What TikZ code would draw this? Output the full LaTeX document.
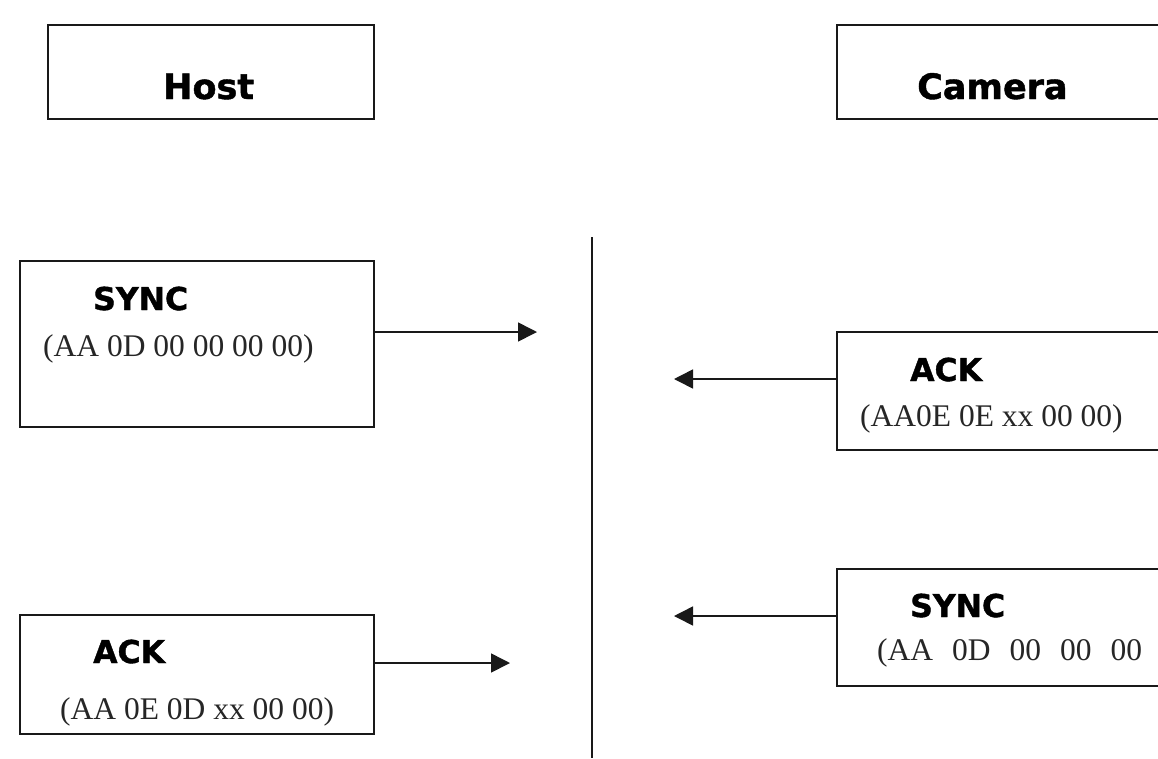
\documentclass[tikz,border=0pt]{standalone}
\usepackage{fontspec}
\setmainfont{Liberation Serif}
\newfontfamily\lblfont{DejaVu Sans Bold}[FakeBold=1.2]
\usetikzlibrary{arrows.meta}
\tikzset{
  box/.style={draw=black!90, line width=1.4pt, rectangle, inner sep=0pt, outer sep=0pt, fill=none},
  title/.style={anchor=base west, inner sep=0pt, font=\lblfont\fontsize{35}{40}\selectfont},
  lbl/.style={anchor=base west, inner sep=0pt, font=\lblfont\fontsize{31.5}{36}\selectfont},
  code/.style={anchor=base west, inner sep=0pt, font=\fontsize{31.5}{36}\selectfont, text=black!85},
  arr/.style={draw=black!90, line width=1.6pt, -{Triangle[length=19pt,width=19pt]}},
  vline/.style={draw=black!90, line width=1.4pt}
}
\begin{document}
\begin{tikzpicture}[x=1pt,y=-1pt]
\useasboundingbox (0,0) rectangle (1158,758);
\clip (0,0) rectangle (1158,758);
\fill[white] (0,0) rectangle (1158,758);
% boxes
\node[box, minimum width=326pt, minimum height=94pt] (host) at (211,72) {};
\node[box, minimum width=338pt, minimum height=94pt] (camera) at (1006,72) {};
\node[box, minimum width=354pt, minimum height=166pt] (hsync) at (197,344) {};
\node[box, minimum width=338pt, minimum height=118pt] (cack) at (1006,391) {};
\node[box, minimum width=338pt, minimum height=117pt] (csync) at (1006,627.5) {};
\node[box, minimum width=354pt, minimum height=119pt] (hack) at (197,674.5) {};
% titles
\node[title] (hosttxt) at (163,99) {Host};
\node[title] (camtxt) at (917,99) {Camera};
% labels
\node[lbl] (hsynclbl) at (93,310) {SYNC};
\node[code] (hsynccode) at (43,356) {(AA 0D 00 00 00 00)};
\node[lbl] (cacklbl) at (910,381) {ACK};
\node[code] (cackcode) at (860,426) {(AA0E 0E xx 00 00)};
\node[lbl] (csynclbl) at (910,617) {SYNC};
\node[code] (csynccode) at (877,660) {(AA\hspace{19pt}0D\hspace{19pt}00\hspace{19pt}00\hspace{19pt}00};
\node[lbl] (hacklbl) at (93,663) {ACK};
\node[code] (hackcode) at (60,719) {(AA 0E 0D xx 00 00)};
% divider
\coordinate (vtop) at (592,237);
\coordinate (vbot) at (592,758);
\draw[vline] (vtop) -- (vbot);
% arrows
\coordinate (t1) at (537,332);
\coordinate (t2) at (674,379);
\coordinate (t3) at (674,616);
\coordinate (t4) at (510,663);
\draw[arr] (hsync.east |- t1) -- (t1);
\draw[arr] (cack.west |- t2) -- (t2);
\draw[arr] (csync.west |- t3) -- (t3);
\draw[arr] (hack.east |- t4) -- (t4);
\end{tikzpicture}
\end{document}
